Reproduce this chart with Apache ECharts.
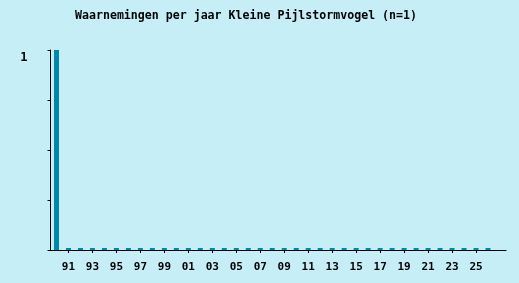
<!DOCTYPE html>
<html>
<head>
<meta charset="utf-8">
<script src="https://cdn.jsdelivr.net/npm/echarts@6/dist/echarts.min.js"></script>
<style>
html,body{margin:0;padding:0;background:#c6eef7;}
#c{width:519px;height:283px;}
</style>
</head>
<body>
<div id="c"></div>
<script>
const titleText = 'Waarnemingen per jaar Kleine Pijlstormvogel (n=1)';
const years = [];
for (let y = 1990; y <= 2027; y++) years.push(String(y));
const counts = [1,0,0,0,0,0,0,0,0,0,0,0,0,0,0,0,0,0,0,0,0,0,0,0,0,0,0,0,0,0,0,0,0,0,0,0,0,'-'];
const yTickLabels = {1: '1'};

const chart = echarts.init(document.getElementById('c'), null, {renderer: 'canvas'});
const mono = '"DejaVu Sans Mono", "Liberation Mono", monospace';
const showIdx = (i) => i % 2 === 1 && i < years.length - 1;
chart.setOption({
  backgroundColor: '#c6eef7',
  animation: false,
  title: {
    text: titleText,
    left: 75,
    top: 10,
    padding: 0,
    textStyle: {fontFamily: mono, fontWeight: 'bold', fontSize: 11.6, color: '#000'}
  },
  grid: {left: 50.5, right: 13, top: 50, bottom: 33, containLabel: false},
  xAxis: {
    type: 'category',
    data: years,
    boundaryGap: true,
    axisLine: {lineStyle: {color: '#000', width: 1}},
    axisTick: {
      show: true, alignWithLabel: true, length: 3,
      interval: showIdx,
      lineStyle: {color: '#000'}
    },
    axisLabel: {
      interval: showIdx,
      formatter: (v) => v.slice(2),
      fontFamily: mono, fontWeight: 'bold', fontSize: 11, color: '#000', margin: 12
    },
    splitLine: {show: false}
  },
  yAxis: {
    type: 'value',
    min: 0, max: 1, interval: 0.25,
    axisLine: {show: true, lineStyle: {color: '#000', width: 1}},
    axisTick: {show: true, length: 3, lineStyle: {color: '#000'}},
    axisLabel: {
      formatter: (v) => yTickLabels[v] || '',
      fontFamily: mono, fontWeight: 'bold', fontSize: 12, color: '#000',
      margin: 23, verticalAlign: 'top', padding: [2, 0, 0, 0]
    },
    splitLine: {show: false}
  },
  series: [{
    type: 'bar',
    data: counts,
    barWidth: 5,
    barMinHeight: 2,
    itemStyle: {color: '#0088aa'}
  }]
});
</script>
</body>
</html>
